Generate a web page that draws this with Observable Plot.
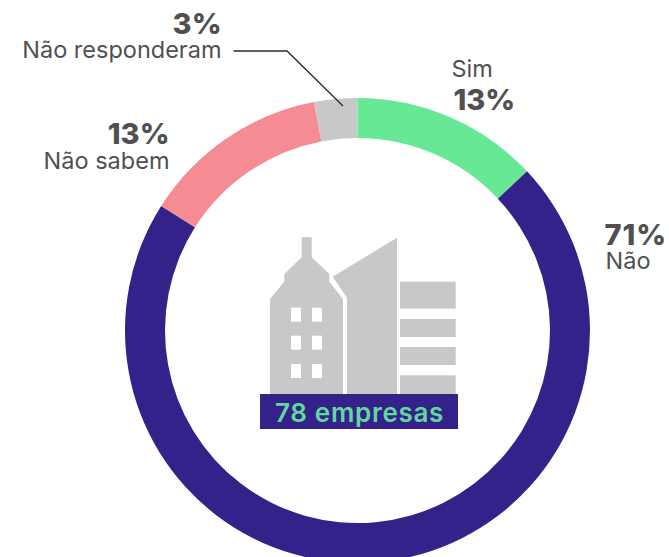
<!DOCTYPE html>
<html>
<head>
<meta charset="utf-8">
<script src="https://cdn.jsdelivr.net/npm/d3@7"></script>
<script src="https://cdn.jsdelivr.net/npm/@observablehq/plot@0.6"></script>
<style>html,body{margin:0;padding:0;background:#fff;overflow:hidden}svg{display:block}</style>
</head>
<body>
<div id="chart"></div>
<script>
const categories = ["Sim", "Não", "Não sabem", "Não responderam"];
const shares = [13, 71, 13, 3];
const sliceColors = ["#66E895", "#35218A", "#F68C93", "#C7C8CA"];
const percentLabels = ["13%", "71%", "13%", "3%"];
const centerLabel = "78 empresas";

const rows = categories.map((name, i) => ({name, share: shares[i]}));
const FONT = "Inter, 'Open Sans', sans-serif";
const INK = "#505050";
const cx = 357.5, cy = 330.5, rOuter = 232.5, rInner = 192.5;

function donutRender(index, scales, values) {
  const arc = d3.arc().innerRadius(rInner).outerRadius(rOuter);
  const g = d3.create("svg:g").attr("transform", `translate(${cx},${cy})`);
  for (const i of index) {
    g.append("path")
      .attr("d", arc({startAngle: values.x1[i] * Math.PI / 180, endAngle: values.x2[i] * Math.PI / 180}))
      .attr("fill", values.fill[i]);
  }
  return g.node();
}

function building() {
  const g = d3.create("svg:g");
  const grey = "#C7C8CA";
  g.append("path").attr("fill", grey).attr("d",
    "M301.7 237.3H311.7V257.3L329.3 274V281.7L343 299V394H270V299L284.3 281.7V274L301.7 257.3Z");
  g.append("path").attr("fill", grey).attr("d", "M397 237.7V394H347V297.7L332.7 276.7Z");
  for (const [y, h] of [[281.7, 27], [319, 18], [347, 18], [375.3, 19]])
    g.append("rect").attr("fill", grey).attr("x", 400).attr("y", y).attr("width", 55.7).attr("height", h);
  for (const y of [307.7, 335.7, 364]) for (const x of [291, 312])
    g.append("rect").attr("fill", "#fff").attr("x", x).attr("y", y).attr("width", 10).attr("height", 14);
  g.append("rect").attr("fill", "#35218A").attr("x", 260).attr("y", 394).attr("width", 198).attr("height", 35);
  g.append("path").attr("fill", "none").attr("stroke", "#2a2a2a").attr("stroke-width", 1.3)
    .attr("d", "M233.5 51H287L343 106");
  return g.node();
}

const label = (text, x, y, size, weight, anchor, fill = INK, spacing = 0) =>
  Plot.text([text], {
    text: d => d,
    frameAnchor: "top-left",
    dx: x, dy: y,
    textAnchor: anchor,
    lineAnchor: "bottom",
    fontFamily: FONT,
    fontSize: size,
    fontWeight: weight,
    fill,
    render(index, scales, values, dimensions, context, next) {
      const node = next(index, scales, values, dimensions, context);
      node.style.letterSpacing = spacing + "px";
      return node;
    }
  });

const plot = Plot.plot({
  width: 669,
  height: 557,
  margin: 0,
  style: {background: "transparent"},
  x: {domain: [0, 100], range: [0, 360], axis: null},
  color: {domain: categories, range: sliceColors},
  marks: [
    Plot.barX(rows, Plot.stackX({x: "share", fill: "name", render: donutRender})),
    building,
    label(percentLabels[3], 221, 33, 29, 800, "end"),
    label(categories[3], 221, 57, 23.5, 400, "end"),
    label(percentLabels[2], 169, 143, 29, 800, "end"),
    label(categories[2], 169, 168, 23.5, 400, "end"),
    label(categories[0], 451, 76, 23.5, 400, "start"),
    label(percentLabels[0], 453, 109, 29, 800, "start"),
    label(percentLabels[1], 604, 244, 29, 800, "start", INK, 1),
    label(categories[1], 605, 268, 23.5, 400, "start"),
    label(centerLabel, 359, 421, 26, 600, "middle", "#62D99B", 0.7)
  ]
});
document.getElementById("chart").append(plot);
</script>
</body>
</html>
